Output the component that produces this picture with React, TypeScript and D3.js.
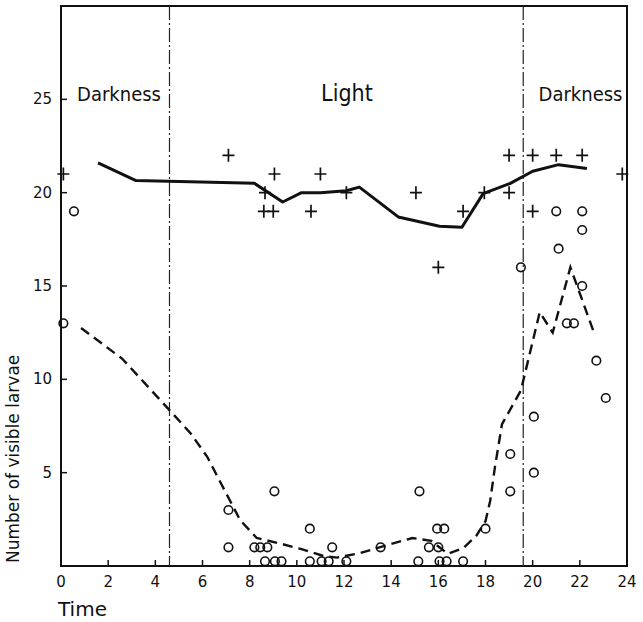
import React from "react";
import * as d3 from "d3";

// hours of day
const xTicks = [0, 2, 4, 6, 8, 10, 12, 14, 16, 18, 20, 22, 24];
const yTicks = [5, 10, 15, 20, 25];

// light switches (hours)
const switchTimes = [4.6, 19.6];
const phaseLabels = ["Darkness", "Light", "Darkness"];
const phaseLabelX = [0.68, 11.03, 20.25];

// "+" observations
const plusX = [0.1, 7.1, 9.05, 8.65, 8.6, 9.0, 11.0, 10.6, 12.1, 15.05, 16.0, 17.05, 17.95, 19.0, 19.0, 20.0, 20.0, 21.0, 22.1, 23.8];
const plusY = [21, 22, 21, 20, 19, 19, 21, 19, 20, 20, 16, 19, 20, 22, 20, 22, 19, 22, 22, 21];

// "o" observations
const circX = [0.1, 0.55, 7.1, 7.1, 8.2, 8.45, 8.75, 9.05, 8.65, 9.07, 9.35, 10.55, 10.55, 11.05, 11.35, 11.5, 12.1,
  13.55, 15.2, 15.15, 15.6, 15.95, 16.25, 16.0, 16.05, 16.35, 17.05, 18.0, 19.05, 19.05, 20.05, 20.05, 19.5,
  21.0, 22.1, 22.1, 21.1, 22.1, 21.45, 21.75, 22.7, 23.1];
const circY = [13, 19, 3, 1, 1, 1, 1, 4, 0.25, 0.25, 0.25, 2, 0.25, 0.25, 0.25, 1, 0.25,
  1, 4, 0.25, 1, 2, 2, 1, 0.25, 0.25, 0.25, 2, 6, 4, 8, 5, 16,
  19, 19, 18, 17, 15, 13, 13, 11, 9];

// solid curve (+ series)
const solidX = [1.57, 3.18, 8.2, 9.4, 10.2, 11.0, 12.1, 12.65, 14.3, 16.05, 17.0, 17.9, 19.05, 20.0, 21.1, 22.3];
const solidY = [21.6, 20.65, 20.5, 19.5, 20.0, 20.0, 20.1, 20.3, 18.7, 18.2, 18.15, 19.95, 20.5, 21.15, 21.5, 21.3];

// dashed curve (o series)
const dashX = [0.85, 2.6, 4.6, 5.5, 6.2, 7.0, 7.6, 8.3, 9.3, 10.2, 11.1, 11.7, 12.7, 13.5, 14.9, 15.7, 16.4, 17.05, 17.6, 18.0, 18.2, 18.4, 18.7, 19.5, 20.3, 20.85, 21.6, 22.6];
const dashY = [12.75, 11.1, 8.35, 7.1, 5.85, 3.9, 2.45, 1.5, 1.2, 0.9, 0.55, 0.45, 0.7, 1.0, 1.5, 1.35, 0.65, 0.95, 1.6, 2.4, 3.5, 5.3, 7.6, 9.4, 13.6, 12.5, 16.0, 12.5];

const W = 643;
const H = 622;
const margin = { top: 6, right: 16, bottom: 56, left: 61 };

export default function App() {
  const x = d3.scaleLinear().domain([0, 24]).range([margin.left, W - margin.right]);
  const y = d3.scaleLinear().domain([0, 30]).range([H - margin.bottom, margin.top]);

  const line = d3.line<[number, number]>()
    .x(d => x(d[0]))
    .y(d => y(d[1]));

  const solid = line(solidX.map((v, i) => [v, solidY[i]] as [number, number])) || "";
  const dashed = line(dashX.map((v, i) => [v, dashY[i]] as [number, number])) || "";

  const x0 = x(0), x1 = x(24), y0 = y(0), yTop = y(30);
  const font = "'DejaVu Sans', sans-serif";
  const condensed = "'DejaVu Sans Condensed', 'Liberation Sans Narrow', sans-serif";

  return (
    <svg width={W} height={H} style={{ position: "absolute", left: 0, top: 0, background: "#fff" }}>
      {/* frame */}
      <path d={`M${x0},${y0}V${yTop}H${x1}V${y0}`} fill="none" stroke="#111" strokeWidth={2} />
      <line x1={x0 - 1} x2={x1 + 1} y1={y0} y2={y0} stroke="#111" strokeWidth={2.2} />

      {/* x ticks */}
      {xTicks.map(t => (
        <g key={"xt" + t}>
          {t > 0 && t < 24 && <line x1={x(t)} x2={x(t)} y1={y0} y2={y0 - 6} stroke="#111" strokeWidth={1.5} />}
          <text x={x(t)} y={587} textAnchor="middle" fontFamily={font} fontSize={15} fill="#111">{t}</text>
        </g>
      ))}

      {/* y ticks */}
      {yTicks.map(t => (
        <g key={"yt" + t}>
          <line x1={x0} x2={x0 + 6} y1={y(t)} y2={y(t)} stroke="#111" strokeWidth={1.5} />
          <text x={x0 - 9} y={y(t) + 5} textAnchor="end" fontFamily={font} fontSize={15} fill="#111">{t}</text>
        </g>
      ))}

      {/* light / dark switches */}
      {switchTimes.map(t => (
        <line key={"sw" + t} x1={x(t)} x2={x(t)} y1={yTop} y2={y0} stroke="#222" strokeWidth={1.2} strokeDasharray="14,3,2,3" />
      ))}

      {phaseLabels.map((s, i) => (
        <text key={"pl" + i} x={x(phaseLabelX[i])} y={y(24.9)} fontFamily={condensed} fontSize={s === "Light" ? 23 : 20} fill="#111">{s}</text>
      ))}

      {/* curves */}
      <path d={solid} fill="none" stroke="#111" strokeWidth={3} strokeLinejoin="round" />
      <path d={dashed} fill="none" stroke="#111" strokeWidth={2.4} strokeDasharray="10,6" />

      {/* points */}
      {plusX.map((v, i) => (
        <path key={"p" + i} transform={`translate(${x(v)},${y(plusY[i])})`} d="M-6,0H6M0,-6.5V6.5" stroke="#111" strokeWidth={1.7} />
      ))}
      {circX.map((v, i) => (
        <circle key={"c" + i} cx={x(v)} cy={y(circY[i])} r={4.3} fill="none" stroke="#111" strokeWidth={1.6} />
      ))}

      {/* axis titles */}
      <text x={58} y={616} fontFamily={font} fontSize={20} fill="#111">Time</text>
      <text transform={`translate(19,${y0 - 3}) rotate(-90)`} fontFamily={font} fontSize={17} fill="#111">Number of visible larvae</text>
    </svg>
  );
}
